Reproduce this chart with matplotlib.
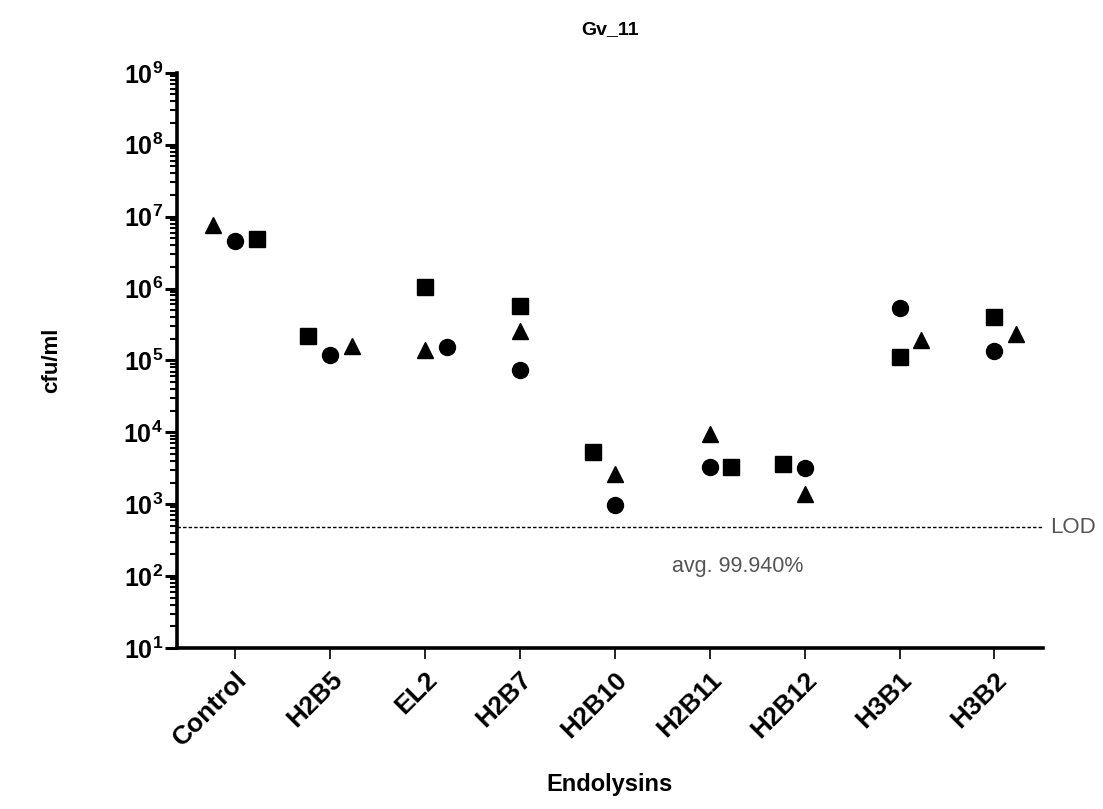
import numpy as np
import matplotlib
matplotlib.use("Agg")
from matplotlib import pyplot as plt
from matplotlib.ticker import LogLocator, NullFormatter

plt.rcParams['font.family'] = ['Liberation Sans', 'DejaVu Sans']
plt.rcParams['mathtext.fontset'] = 'custom'
plt.rcParams['mathtext.rm'] = 'Liberation Sans'
plt.rcParams['mathtext.bf'] = 'Liberation Sans:bold'

# Datos.
endolisinas = ["Control", "H2B5", "EL2", "H2B7", "H2B10", "H2B11", "H2B12", "H3B1", "H3B2"]
circulos = [4.6e6, 1.2e5, 1.55e5, 7.4e4, 9.6e2, 3.3e3, 3.2e3, 5.3e5, 1.35e5]
cuadrados = [4.9e6, 2.2e5, 1.05e6, 5.8e5, 5.4e3, 3.3e3, 3.6e3, 1.1e5, 4.0e5]
triangulos = [7.7e6, 1.6e5, 1.4e5, 2.6e5, 2.6e3, 9.6e3, 1.4e3, 1.95e5, 2.3e5]
# Desplazamiento horizontal de cada réplica (en pasos de jitter).
jit_circulos = [0, 0, 1, 0, 0, 0, 0, 0, 0]
jit_cuadrados = [1, -1, 0, 0, -1, 1, -1, 0, 0]
jit_triangulos = [-1, 1, 0, 0, 0, 0, 0, 1, 1]
lod = 480
texto_avg = "avg. 99.940%"

paso = 0.23
x = np.arange(len(endolisinas))

fig = plt.figure(figsize=(11.03, 8.09), dpi=100)
ax = fig.add_axes([0.1605, 0.199, 0.785, 0.711])

ax.plot(x + paso * np.array(jit_circulos), circulos, 'o', c='k', ms=11.5, ls='none')
ax.plot(x + paso * np.array(jit_cuadrados), cuadrados, 's', c='k', ms=11, ls='none')
ax.plot(x + paso * np.array(jit_triangulos), triangulos, '^', c='k', ms=12, ls='none')

# Línea del límite de detección.
ax.axhline(lod, ls=(0, (2.5, 1.5)), c='k', lw=1.0)
ax.text(1.008, lod, "LOD", transform=ax.get_yaxis_transform(), va='center', ha='left',
        color='#555555', fontsize=16)
ax.text(5.3, 138, texto_avg, ha='center', va='center', color='#555555', fontsize=15.5)

ax.set_yscale('log')
ax.set_ylim(10, 1e9)
ax.set_xlim(-0.61, 8.51)

ax.yaxis.set_major_locator(LogLocator(base=10, numticks=20))
ax.yaxis.set_minor_locator(LogLocator(base=10, subs=np.arange(2, 10), numticks=20))
ax.yaxis.set_minor_formatter(NullFormatter())
ax.set_yticks([10.0 ** n for n in range(1, 10)])
ax.set_yticklabels([r'$\mathbf{10^{%d}}$' % n for n in range(1, 10)], fontsize=18)

ax.set_xticks(x)
ax.set_xticklabels(endolisinas, rotation=45, ha='right', rotation_mode='anchor',
                   fontsize=19, fontweight='bold')

ax.spines['top'].set_visible(False)
ax.spines['right'].set_visible(False)
ax.spines['left'].set_linewidth(2.6)
ax.spines['bottom'].set_linewidth(2.6)

ax.tick_params(axis='y', which='major', length=9, width=2.2, pad=1)
ax.tick_params(axis='y', which='minor', length=5, width=1.5)
ax.tick_params(axis='x', which='major', length=8, width=1.2, pad=6)

ax.set_title("Gv_11", fontsize=14, fontweight='bold', pad=28)
ax.set_xlabel("Endolysins", fontsize=17, fontweight='bold', labelpad=16)
ax.set_ylabel("cfu/ml", fontsize=16, fontweight='bold', labelpad=44)

fig.savefig("out.png", dpi=100)
